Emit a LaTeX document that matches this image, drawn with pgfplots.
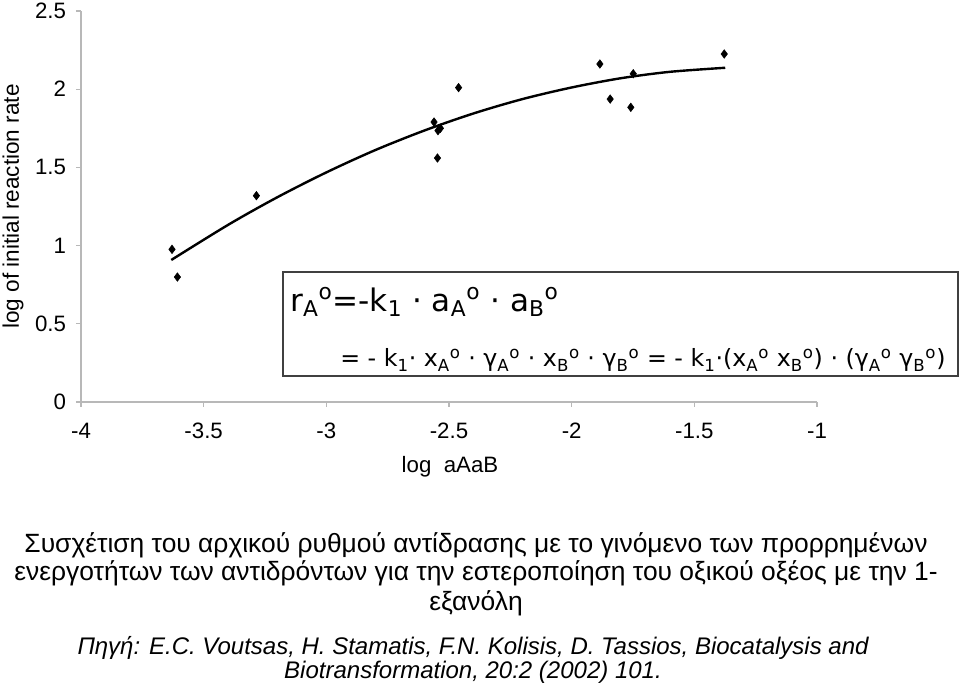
\documentclass[border=0pt]{standalone}
\usepackage{fontspec}
\setmainfont{Liberation Sans}
\newfontfamily\boxfont{DejaVu Sans}
\usepackage{pgfplots}
\pgfplotsset{compat=1.18}
\pgfplotstableread{
x y
-3.629 0.976
-3.607 0.799
-3.285 1.319
-2.561 1.790
-2.545 1.735
-2.535 1.750
-2.547 1.560
-2.461 2.010
-1.885 2.161
-1.843 1.937
-1.759 1.884
-1.749 2.099
-1.378 2.225
}\measured
\pgfplotstableread{
x y
-3.632 0.908
-3.4 1.133
-3.2 1.309
-3.0 1.468
-2.8 1.611
-2.6 1.736
-2.4 1.845
-2.2 1.937
-2.0 2.011
-1.8 2.070
-1.6 2.111
-1.374 2.137
}\trend
\begin{document}
\begin{tikzpicture}
\useasboundingbox (-60.75pt,-214.5pt) rectangle (659.25pt,301.5pt);
\begin{axis}[at={(0pt,0pt)}, anchor=south west, scale only axis,
  width=552pt, height=293.25pt,
  xmin=-4, xmax=-1, ymin=0, ymax=2.5,
  axis x line=bottom, axis y line=left,
  axis line style={-, draw=black!28, line width=0.8pt},
  every inner x axis line/.append style={-},
  every inner y axis line/.append style={-},
  tick style={draw=black!28, line width=0.8pt},
  tick align=outside, major tick length=3.75pt,
  xtick={-4,-3.5,-3,-2.5,-2,-1.5,-1},
  xticklabels={-4,-3.5,-3,-2.5,-2,-1.5,-1},
  ytick={0,0.5,1,1.5,2,2.5},
  yticklabels={0,0.5,1,1.5,2,2.5},
  ticklabel style={font=\fontsize{16.7}{20}\selectfont},
  xticklabel style={yshift=-8.5pt},
  yticklabel style={xshift=-4pt},
  clip=false]
\addplot[black, line width=1.8pt, smooth, no markers] table[x=x,y=y]{\trend};
\addplot[only marks, mark=diamond*, mark size=3.2pt, black] table[x=x,y=y]{\measured};
\end{axis}
\node[rotate=90, font=\fontsize{16.9}{20}\selectfont] at (-51pt,146.6pt) {log of initial reaction rate};
\node[font=\fontsize{16.7}{20}\selectfont] at (276.75pt,-48.75pt) {log\ \ aAaB};
\draw[black!75, line width=0.9pt] (151.5pt,19.5pt) rectangle (657.75pt,97.5pt);
\node[anchor=base west, inner sep=0pt, font=\boxfont\fontsize{23.3}{26}\selectfont] at (156.75pt,68pt)
 {r\textsubscript{A}\textsuperscript{o}=-k\textsubscript{1} · a\textsubscript{A}\textsuperscript{o} · a\textsubscript{B}\textsuperscript{o}};
\node[anchor=base west, inner sep=0pt, font=\boxfont\fontsize{17.8}{20}\selectfont] at (194.25pt,26.25pt)
 {= - k\textsubscript{1}· x\textsubscript{A}\textsuperscript{o} · γ\textsubscript{A}\textsuperscript{o} · x\textsubscript{B}\textsuperscript{o} · γ\textsubscript{B}\textsuperscript{o} = - k\textsubscript{1}·(x\textsubscript{A}\textsuperscript{o} x\textsubscript{B}\textsuperscript{o}) · (γ\textsubscript{A}\textsuperscript{o} γ\textsubscript{B}\textsuperscript{o})};
\begin{scope}[every node/.style={font=\fontsize{19.8}{24}\selectfont, inner sep=0pt}]
\node at (296.25pt,-107.25pt) {Συσχέτιση του αρχικού ρυθμού αντίδρασης με το γινόμενο των προρρημένων};
\node at (296.25pt,-128.25pt) {ενεργοτήτων των αντιδρόντων για την εστεροποίηση του οξικού οξέος με την 1-};
\node at (296.25pt,-150.75pt) {εξανόλη};
\end{scope}
\begin{scope}[every node/.style={font=\itshape\fontsize{18}{22}\selectfont, inner sep=0pt}]
\node at (294pt,-184.5pt) {Πηγή: E.C. Voutsas, H. Stamatis, F.N. Kolisis, D. Tassios, Biocatalysis and};
\node at (294pt,-202.5pt) {Biotransformation, 20:2 (2002) 101.};
\end{scope}
\end{tikzpicture}
\end{document}
